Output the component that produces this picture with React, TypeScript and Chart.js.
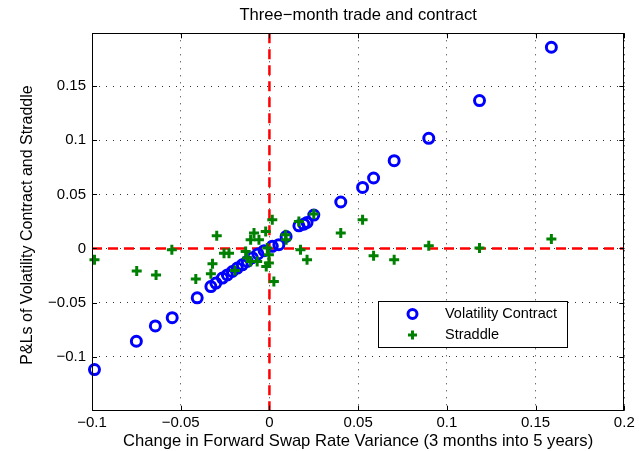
import React, { useEffect, useRef } from "react";
import { Chart, registerables } from "chart.js";

Chart.register(...registerables);

const contractX = [-0.0986, -0.075, -0.0643, -0.0548, -0.0407, -0.033, -0.0302, -0.0265, -0.0237, -0.0209, -0.0181, -0.0153, -0.0125, -0.0097, -0.0065, -0.003, 0.0016, 0.0053, 0.0094, 0.0166, 0.0194, 0.0212, 0.025, 0.0402, 0.0525, 0.0587, 0.0703, 0.0898, 0.1184, 0.1589];
const contractY = [-0.112, -0.0858, -0.0716, -0.064, -0.0456, -0.0352, -0.032, -0.0274, -0.0244, -0.0213, -0.0181, -0.0151, -0.012, -0.0085, -0.005, -0.002, 0.002, 0.0035, 0.0111, 0.021, 0.0225, 0.0241, 0.0309, 0.043, 0.0565, 0.0652, 0.0812, 0.1019, 0.1368, 0.1861];

const straddleX = [-0.0986, -0.0748, -0.0639, -0.055, -0.0415, -0.033, -0.0321, -0.0297, -0.0256, -0.0228, -0.0194, -0.0134, -0.0125, -0.0106, -0.0106, -0.0087, -0.0069, -0.0059, -0.0021, -0.0012, -0.0003, -0.0018, -0.0003, 0.0016, 0.0025, 0.0091, 0.0094, 0.0166, 0.0175, 0.0212, 0.025, 0.0402, 0.0525, 0.0587, 0.0703, 0.0898, 0.1184, 0.1589];
const straddleY = [-0.0105, -0.0209, -0.0244, -0.0012, -0.0283, -0.0234, -0.0142, 0.0118, -0.0043, -0.0043, -0.0204, -0.0028, -0.0089, -0.012, 0.008, 0.0143, -0.012, 0.008, 0.0157, 0.0004, -0.0058, -0.0167, -0.0135, 0.0266, -0.0306, 0.0127, 0.008, 0.025, -0.0012, -0.0105, 0.0319, 0.0143, 0.0266, -0.0068, -0.0105, 0.0025, 0.0004, 0.0087];

const xTicks = [-0.1, -0.05, 0, 0.05, 0.1, 0.15, 0.2];
const xTickLabels = ["\u22120.1", "\u22120.05", "0", "0.05", "0.1", "0.15", "0.2"];
const yTicks = [-0.1, -0.05, 0, 0.05, 0.1, 0.15];
const yTickLabels = ["\u22120.1", "\u22120.05", "0", "0.05", "0.1", "0.15"];

const titleText = "Three\u2212month trade and contract";
const xTitleText = "Change in Forward Swap Rate Variance (3 months into 5 years)";
const yTitleText = "P&Ls of Volatility Contract and Straddle";
const seriesNames = ["Volatility Contract", "Straddle"];

const FONT_FAMILY = "'Liberation Sans', Arial, Helvetica, sans-serif";
const FS = 15;
const FS_TITLE = 16.6;
const FS_YTITLE = 16;
const FS_LEGEND = 14.5;

const decorPlugin = {
  id: "decor",
  beforeDatasetsDraw(chart: any) {
    const { ctx, chartArea: a, scales } = chart;
    const x0 = scales.x.getPixelForValue(0);
    const y0 = scales.y.getPixelForValue(0);
    ctx.save();
    ctx.beginPath();
    ctx.rect(a.left, a.top, a.right - a.left, a.bottom - a.top);
    ctx.clip();
    ctx.strokeStyle = "#ff0000";
    ctx.lineWidth = 2.5;
    ctx.setLineDash([10, 6]);
    ctx.beginPath();
    ctx.moveTo(a.left, y0);
    ctx.lineTo(a.right, y0);
    ctx.stroke();
    ctx.beginPath();
    ctx.moveTo(x0, a.top);
    ctx.lineTo(x0, a.bottom);
    ctx.stroke();
    ctx.restore();
  },
  afterDraw(chart: any) {
    const { ctx, chartArea: a, scales } = chart;
    ctx.save();
    ctx.strokeStyle = "#000";
    ctx.lineWidth = 1;
    ctx.setLineDash([]);
    ctx.strokeRect(Math.round(a.left) + 0.5, Math.round(a.top) + 0.5, Math.round(a.right - a.left) - 1, Math.round(a.bottom - a.top));
    const tl = 5;
    ctx.beginPath();
    xTicks.forEach((v) => {
      const px = Math.round(scales.x.getPixelForValue(v)) + 0.5;
      ctx.moveTo(px, a.bottom);
      ctx.lineTo(px, a.bottom - tl);
      ctx.moveTo(px, a.top);
      ctx.lineTo(px, a.top + tl);
    });
    yTicks.forEach((v) => {
      const py = Math.round(scales.y.getPixelForValue(v)) + 0.5;
      ctx.moveTo(a.left, py);
      ctx.lineTo(a.left + tl, py);
      ctx.moveTo(a.right, py);
      ctx.lineTo(a.right - tl, py);
    });
    ctx.stroke();

    ctx.fillStyle = "#000";
    ctx.font = `${FS_TITLE}px ${FONT_FAMILY}`;
    ctx.textAlign = "center";
    ctx.textBaseline = "middle";
    const cx = (a.left + a.right) / 2;
    ctx.fillText(titleText, cx, 15);
    ctx.fillText(xTitleText, cx, 441.5);
    ctx.save();
    ctx.font = `${FS_YTITLE}px ${FONT_FAMILY}`;
    ctx.translate(28, (a.top + a.bottom) / 2 + 3);
    ctx.rotate(-Math.PI / 2);
    ctx.fillText(yTitleText, 0, 0);
    ctx.restore();

    const lx = 378.5, ly = 301.5, lw = 189, lh = 46;
    ctx.fillStyle = "#fff";
    ctx.fillRect(lx, ly, lw, lh);
    ctx.strokeStyle = "#000";
    ctx.lineWidth = 1;
    ctx.strokeRect(lx, ly, lw, lh);
    ctx.strokeStyle = "#0000ff";
    ctx.lineWidth = 3;
    ctx.beginPath();
    ctx.arc(412.5, 314, 4.5, 0, Math.PI * 2);
    ctx.stroke();
    ctx.strokeStyle = "#008000";
    ctx.lineWidth = 3;
    ctx.beginPath();
    ctx.moveTo(412.5 - 4.5, 335);
    ctx.lineTo(412.5 + 4.5, 335);
    ctx.moveTo(412.5, 335 - 4.5);
    ctx.lineTo(412.5, 335 + 4.5);
    ctx.stroke();
    ctx.fillStyle = "#000";
    ctx.font = `${FS_LEGEND}px ${FONT_FAMILY}`;
    ctx.textAlign = "left";
    ctx.fillText(seriesNames[0], 445, 314);
    ctx.fillText(seriesNames[1], 445, 335);
    ctx.restore();
  },
};

export default function App() {
  const ref = useRef<HTMLCanvasElement | null>(null);
  useEffect(() => {
    if (!ref.current) return;
    const chart = new Chart(ref.current, {
      type: "scatter",
      data: {
        datasets: [
          {
            label: seriesNames[1],
            data: straddleX.map((x, i) => ({ x, y: straddleY[i] })),
            pointStyle: "cross",
            pointRadius: 5,
            pointBorderWidth: 3,
            borderColor: "#008000",
            backgroundColor: "#008000",
            clip: 12,
          } as any,
          {
            label: seriesNames[0],
            data: contractX.map((x, i) => ({ x, y: contractY[i] })),
            pointStyle: "circle",
            pointRadius: 5,
            pointBorderWidth: 3,
            borderColor: "#0000ff",
            backgroundColor: "rgba(0,0,0,0)",
            clip: 12,
          } as any,
        ],
      },
      options: {
        animation: false,
        responsive: false,
        devicePixelRatio: 1,
        events: [],
        layout: { padding: { top: 33.3, right: 14.7, left: 0, bottom: 0 } },
        plugins: { legend: { display: false }, title: { display: false }, tooltip: { enabled: false } },
        scales: {
          x: {
            type: "linear",
            min: -0.1,
            max: 0.2,
            afterBuildTicks: (s: any) => {
              s.ticks = xTicks.map((v) => ({ value: v }));
            },
            afterFit: (s: any) => {
              s.height = 40.3;
            },
            ticks: {
              autoSkip: false,
              maxRotation: 0,
              padding: 3,
              color: "#000",
              font: { family: FONT_FAMILY, size: FS },
              callback: (_v: any, i: number) => xTickLabels[i],
            },
            grid: { color: "#333", lineWidth: 1, drawTicks: false },
            border: { display: false, dash: [1, 6] },
          },
          y: {
            type: "linear",
            min: -0.15,
            max: 0.199,
            afterBuildTicks: (s: any) => {
              s.ticks = yTicks.map((v) => ({ value: v }));
            },
            afterFit: (s: any) => {
              s.width = 92;
            },
            ticks: {
              autoSkip: false,
              padding: 6,
              color: "#000",
              font: { family: FONT_FAMILY, size: FS },
              callback: (_v: any, i: number) => yTickLabels[i],
            },
            grid: { color: "#333", lineWidth: 1, drawTicks: false },
            border: { display: false, dash: [1, 6] },
          },
        },
      },
      plugins: [decorPlugin],
    });
    return () => chart.destroy();
  }, []);
  return (
    <div style={{ position: "fixed", left: 0, top: 0, width: 639, height: 451, background: "#fff" }}>
      <canvas ref={ref} width={639} height={451} />
    </div>
  );
}
